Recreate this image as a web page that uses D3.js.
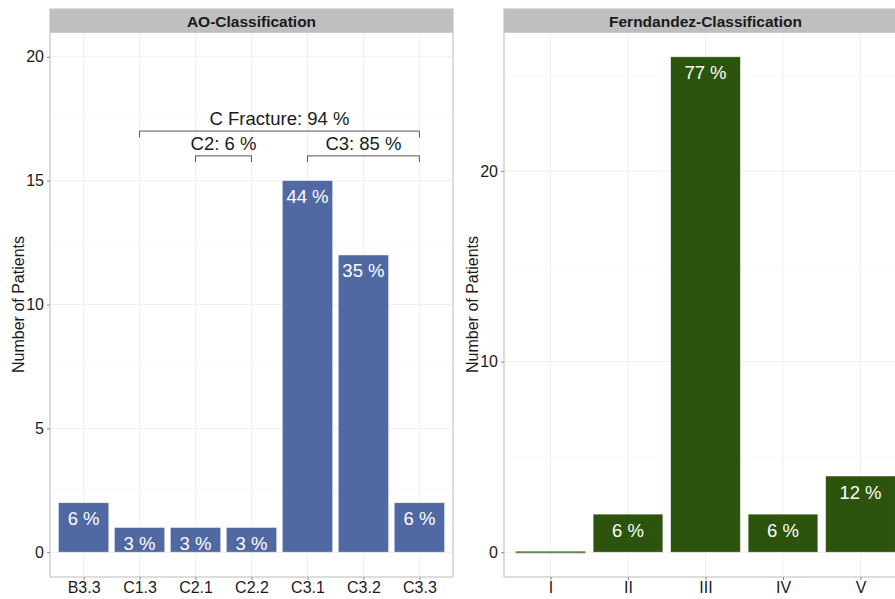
<!DOCTYPE html>
<html lang="en">
<head>
<meta charset="UTF-8">
<title>Classification</title>
<script src="https://cdn.jsdelivr.net/npm/d3@7/dist/d3.min.js"></script>
<style>
  body { margin: 0; background: #fff; }
  svg { display: block; font-family: "Liberation Sans", Arial, sans-serif; }
  .grid line { stroke: #ebebeb; stroke-width: 0.8; }
  .grid line.minor { stroke: #f4f4f4; stroke-width: 0.6; }
  .tick text { fill: #1a1a1a; font-size: 16px; }
  .tick line { stroke: #8a8a8a; }
  .domain { display: none; }
</style>
</head>
<body>
<svg></svg>
<script>
// AO classification
const aoCats = ['B3.3', 'C1.3', 'C2.1', 'C2.2', 'C3.1', 'C3.2', 'C3.3'];
const aoCounts = [2, 1, 1, 1, 15, 12, 2];
const aoLabels = ['6 %', '3 %', '3 %', '3 %', '44 %', '35 %', '6 %'];
const aoTicks = [0, 5, 10, 15, 20];

// brackets over the AO bars: [from, to, level, text]
const bracketFrom = ['C1.3', 'C2.1', 'C3.1'];
const bracketTo = ['C3.3', 'C2.2', 'C3.3'];
const bracketLevel = [17, 16, 16];
const bracketText = ['C Fracture: 94 %', 'C2: 6 %', 'C3: 85 %'];

// Fernandez classification
const feCats = ['I', 'II', 'III', 'IV', 'V'];
const feCounts = [0, 2, 26, 2, 4];
const feLabels = ['', '6 %', '77 %', '6 %', '12 %'];
const feTicks = [0, 10, 20];

const W = 895, H = 599;
const svg = d3.select('svg').attr('width', W).attr('height', H).style('overflow', 'hidden');

function panel(opt) {
  const x0 = opt.left, x1 = opt.left + 403;
  const top = 32, bottom = 577;

  const y = d3.scaleLinear().domain(opt.ydomain).range([bottom, top]);
  const n = opt.cats.length;
  const x = d3.scaleLinear().domain([0.4, n + 0.6]).range([x0, x1]);
  const cx = c => x(opt.cats.indexOf(c) + 1);

  const g = svg.append('g');

  // grid
  const grid = g.append('g').attr('class', 'grid');
  const minors = d3.range(0, opt.ydomain[1], opt.step / 2)
    .filter(v => !opt.ticks.includes(v) && y(v) > top);
  grid.selectAll('line.minor').data(minors).enter().append('line')
    .attr('class', 'minor')
    .attr('x1', x0).attr('x2', x1).attr('y1', d => y(d)).attr('y2', d => y(d));
  grid.selectAll('line.hmaj').data(opt.ticks).enter().append('line')
    .attr('class', 'hmaj')
    .attr('x1', x0).attr('x2', x1).attr('y1', d => y(d)).attr('y2', d => y(d));
  grid.selectAll('line.vmaj').data(opt.cats).enter().append('line')
    .attr('class', 'vmaj')
    .attr('x1', d => cx(d)).attr('x2', d => cx(d)).attr('y1', top).attr('y2', bottom);

  // bars
  const bw = (x(1.45) - x(0.55));
  const data = opt.cats.map((c, i) => ({ c, v: opt.counts[i], l: opt.labels[i] }));
  g.selectAll('rect.bar').data(data.filter(d => d.v > 0)).enter().append('rect')
    .attr('class', 'bar')
    .attr('x', d => cx(d.c) - bw / 2)
    .attr('width', bw)
    .attr('y', d => y(d.v))
    .attr('height', d => y(0) - y(d.v))
    .attr('fill', opt.color)
    .attr('stroke', '#ffffff').attr('stroke-opacity', 0.6).attr('stroke-width', 0.8);
  g.selectAll('line.zero').data(data.filter(d => d.v === 0)).enter().append('line')
    .attr('x1', d => cx(d.c) - bw / 2).attr('x2', d => cx(d.c) + bw / 2)
    .attr('y1', y(0)).attr('y2', y(0))
    .attr('stroke', opt.color).attr('stroke-opacity', 0.7).attr('stroke-width', 2);

  // labels inside bars
  g.selectAll('text.lab').data(data).enter().append('text')
    .attr('x', d => cx(d.c))
    .attr('y', d => y(d.v) + 22.5)
    .attr('text-anchor', 'middle')
    .attr('fill', '#ffffff')
    .style('font-size', '18.5px')
    .text(d => d.l);

  // panel border
  g.append('rect').attr('x', x0).attr('y', top).attr('width', x1 - x0).attr('height', bottom - top)
    .attr('fill', 'none').attr('stroke', '#c6c6c6').attr('stroke-width', 1.2);

  // strip
  g.append('rect').attr('x', x0).attr('y', 9).attr('width', x1 - x0).attr('height', top - 9)
    .attr('fill', '#bfbfbf').attr('stroke', '#bdbdbd');
  g.append('text').attr('x', (x0 + x1) / 2).attr('y', 26.5).attr('text-anchor', 'middle')
    .attr('fill', '#1a1a1a').style('font-size', '15.5px').style('font-weight', 'bold')
    .text(opt.title);

  // axes
  g.append('g').attr('transform', `translate(${x0},0)`)
    .call(d3.axisLeft(y).tickValues(opt.ticks).tickSize(3).tickPadding(3).tickFormat(d3.format('d')));
  const xb = d3.scalePoint().domain(opt.cats).range([cx(opt.cats[0]), cx(opt.cats[n - 1])]);
  g.append('g').attr('transform', `translate(0,${bottom})`)
    .call(d3.axisBottom(xb).tickSize(3).tickPadding(2));

  g.append('text')
    .attr('transform', `translate(${x0 - 26},${(top + bottom) / 2}) rotate(-90)`)
    .attr('text-anchor', 'middle').attr('fill', '#1a1a1a').style('font-size', '16px')
    .text('Number of Patients');

  return { g, y, cx };
}

const ao = panel({
  left: 50, title: 'AO-Classification', cats: aoCats, counts: aoCounts, labels: aoLabels,
  ticks: aoTicks, ydomain: [-1, 21], step: 5, color: '#5069a3'
});

// brackets
bracketText.forEach((t, i) => {
  const xa = ao.cx(bracketFrom[i]), xz = ao.cx(bracketTo[i]);
  const yl = ao.y(bracketLevel[i]), yd = ao.y(bracketLevel[i] - 0.25);
  ao.g.append('path')
    .attr('d', `M${xa},${yd}V${yl}H${xz}V${yd}`)
    .attr('fill', 'none').attr('stroke', '#555').attr('stroke-width', 1);
  ao.g.append('text')
    .attr('x', (xa + xz) / 2).attr('y', ao.y(bracketLevel[i] + 0.25))
    .attr('text-anchor', 'middle').attr('fill', '#1a1a1a').style('font-size', '18.5px')
    .text(t);
});

panel({
  left: 504, title: 'Ferndandez-Classification', cats: feCats, counts: feCounts, labels: feLabels,
  ticks: feTicks, ydomain: [-1.3, 27.3], step: 10, color: '#2c540c'
});
</script>
</body>
</html>
